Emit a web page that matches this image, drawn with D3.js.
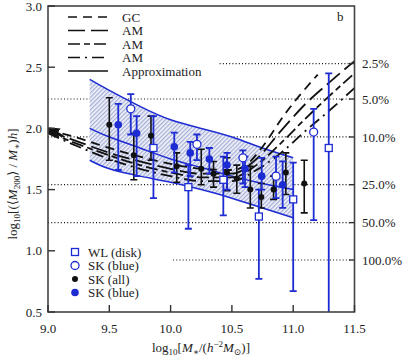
<!DOCTYPE html>
<html>
<head>
<meta charset="utf-8">
<script src="https://cdn.jsdelivr.net/npm/d3@7"></script>
<style>
  body { margin: 0; background: #fff; }
  svg { display: block; font-family: "Liberation Serif", "DejaVu Serif", serif; }
  text { fill: #222; }
</style>
</head>
<body>
<svg id="chart" width="407" height="359"></svg>
<script>
// ---- data ----
const yTicks = [0.5, 1.0, 1.5, 2.0, 2.5, 3.0];
const xTicks = [9.0, 9.5, 10.0, 10.5, 11.0, 11.5];

// right-hand percentage levels and where their dotted guide starts
const pctLabels = ['2.5%', '5.0%', '10.0%', '25.0%', '50.0%', '100.0%'];
const pctLevels = [2.53, 2.24, 1.93, 1.54, 1.23, 0.925];
const pctStart = [10.4, 9.0, 9.0, 9.0, 9.0, 10.02];

// approximation band
const bandX = [9.34, 9.5, 9.75, 10.0, 10.25, 10.5, 10.75, 11.0];
const bandUpper = [2.40, 2.31, 2.18, 2.07, 2.00, 1.93, 1.84, 1.76];
const bandMid = [2.00, 1.93, 1.84, 1.75, 1.68, 1.61, 1.55, 1.50];
const bandLower = [1.74, 1.67, 1.61, 1.56, 1.50, 1.43, 1.35, 1.27];

// model curves
const gcX = [9.0, 9.25, 9.5, 9.75, 10.0, 10.25, 10.5, 10.6, 10.75, 10.92, 11.2];
const gcY = [1.99, 1.92, 1.84, 1.77, 1.71, 1.67, 1.66, 1.69, 1.85, 2.10, 2.44];
const am1X = [9.0, 9.25, 9.5, 9.75, 10.0, 10.25, 10.5, 10.7, 10.9, 11.1, 11.3, 11.5];
const am1Y = [1.98, 1.89, 1.80, 1.73, 1.67, 1.63, 1.63, 1.75, 1.98, 2.20, 2.38, 2.55];
const am2Y = [1.97, 1.87, 1.78, 1.70, 1.64, 1.60, 1.60, 1.70, 1.88, 2.08, 2.27, 2.45];
const am3Y = [1.96, 1.85, 1.75, 1.67, 1.61, 1.57, 1.57, 1.66, 1.80, 1.98, 2.15, 2.33];

// arrow at the left edge
const arrowFrom = [9.12, 1.935];
const arrowTo = [9.0, 1.995];

// WL (disk): open squares
const wlX = [9.86, 10.145, 10.43, 10.72, 11.0, 11.29];
const wlY = [1.84, 1.52, 1.58, 1.28, 1.42, 1.84];
const wlHi = [2.10, 1.70, 1.77, 1.50, 1.72, 2.45];
const wlLo = [1.43, 1.18, 1.29, 0.77, 0.67, 0.40];

// SK (blue): open circles
const skOpenX = [9.675, 10.215, 10.59, 10.86, 11.167];
const skOpenY = [2.16, 1.87, 1.76, 1.61, 1.97];
const skOpenHi = [2.28, 1.95, 1.82, 1.77, 2.16];
const skOpenLo = [1.95, 1.74, 1.55, 1.43, 1.25];

// SK (all): black dots
const skAllX = [9.50, 9.70, 9.84, 10.05, 10.25, 10.35, 10.46, 10.54, 10.65, 10.74, 10.84, 10.94, 11.09];
const skAllY = [2.03, 1.78, 1.94, 1.69, 1.67, 1.63, 1.64, 1.59, 1.50, 1.44, 1.50, 1.64, 1.55];
const skAllHi = [2.25, 1.96, 2.10, 1.80, 1.83, 1.73, 1.76, 1.70, 1.69, 1.55, 1.61, 1.80, 1.74];
const skAllLo = [1.74, 1.58, 1.74, 1.56, 1.54, 1.52, 1.49, 1.47, 1.35, 1.35, 1.42, 1.46, 1.31];

// SK (blue): filled blue dots
const skBlueX = [9.573, 9.723, 10.03, 10.16, 10.316, 10.46, 10.607, 10.743, 10.914];
const skBlueY = [2.03, 1.96, 1.85, 1.80, 1.75, 1.70, 1.67, 1.61, 1.54];
const skBlueHi = [2.20, 2.10, 1.965, 1.89, 1.84, 1.80, 1.77, 1.76, 1.73];
const skBlueLo = [1.66, 1.61, 1.64, 1.61, 1.63, 1.50, 1.52, 1.50, 1.35];

const lineNames = ['GC', 'AM', 'AM', 'AM', 'Approximation'];
const lineDashes = ['9,6', '17,6', '12,4,6,4', '12,5,2,5', null];
const markerNames = ['WL (disk)', 'SK (blue)', 'SK (all)', 'SK (blue)'];

// ---- drawing ----
const blue = '#1d2bd2';
const svg = d3.select('#chart');
const x = d3.scaleLinear().domain([9.0, 11.5]).range([48, 354.5]);
const y = d3.scaleLinear().domain([0.5, 3.0]).range([312, 6]);

const defs = svg.append('defs');
const pat = defs.append('pattern')
  .attr('id', 'hatch').attr('patternUnits', 'userSpaceOnUse')
  .attr('width', 3).attr('height', 3)
  .attr('patternTransform', 'rotate(45)');
pat.append('rect').attr('width', 3).attr('height', 3).attr('fill', '#f4f5fb');
pat.append('line').attr('x1', 0.75).attr('y1', 0).attr('x2', 0.75).attr('y2', 3)
  .attr('stroke', '#7f8cc6').attr('stroke-width', 0.9);
defs.append('clipPath').attr('id', 'plot')
  .append('rect').attr('x', 48).attr('y', 6).attr('width', 306.5).attr('height', 306);
defs.append('marker').attr('id', 'head')
  .attr('viewBox', '0 0 10 10').attr('refX', 7).attr('refY', 5)
  .attr('markerWidth', 4.5).attr('markerHeight', 4.5).attr('orient', 'auto')
  .append('path').attr('d', 'M0,0 L10,5 L0,10 Z').attr('fill', '#111');

const plot = svg.append('g').attr('clip-path', 'url(#plot)');

// dotted percentage guides
pctLevels.forEach((v, i) => {
  plot.append('line')
    .attr('x1', x(pctStart[i])).attr('x2', x(11.47))
    .attr('y1', y(v)).attr('y2', y(v))
    .attr('stroke', '#111').attr('stroke-width', 1.2)
    .attr('stroke-dasharray', '1,2.2');
});

// band
const area = d3.area().x(d => x(d[0])).y0(d => y(d[1])).y1(d => y(d[2]))
  .curve(d3.curveNatural);
plot.append('path')
  .attr('d', area(bandX.map((v, i) => [v, bandLower[i], bandUpper[i]])))
  .attr('fill', 'url(#hatch)');
const smooth = d3.line().x(d => x(d[0])).y(d => y(d[1])).curve(d3.curveNatural);
const line = d3.line().x(d => x(d[0])).y(d => y(d[1])).curve(d3.curveMonotoneX);
[bandUpper, bandMid, bandLower].forEach(arr => {
  plot.append('path')
    .attr('d', smooth(bandX.map((v, i) => [v, arr[i]])))
    .attr('fill', 'none').attr('stroke', blue).attr('stroke-width', 1.5);
});

// model curves
const curves = [[gcX, gcY], [am1X, am1Y], [am1X, am2Y], [am1X, am3Y]];
curves.forEach(([xs, ys], i) => {
  plot.append('path')
    .attr('d', line(xs.map((v, j) => [v, ys[j]])))
    .attr('fill', 'none').attr('stroke', '#111').attr('stroke-width', 1.8)
    .attr('stroke-dasharray', lineDashes[i]);
});

// arrow
svg.append('line')
  .attr('x1', x(arrowFrom[0])).attr('y1', y(arrowFrom[1]))
  .attr('x2', x(arrowTo[0]) + 3).attr('y2', y(arrowTo[1]))
  .attr('stroke', '#111').attr('stroke-width', 2.5)
  .attr('marker-end', 'url(#head)');

// error bars and markers
function errorBars(xs, ys, hi, lo, color, width) {
  xs.forEach((v, i) => {
    const g = plot.append('g').attr('stroke', color).attr('stroke-width', width);
    g.append('line').attr('x1', x(v)).attr('x2', x(v)).attr('y1', y(hi[i])).attr('y2', y(lo[i]));
    [hi[i], lo[i]].forEach(e => {
      g.append('line').attr('x1', x(v) - 3.5).attr('x2', x(v) + 3.5).attr('y1', y(e)).attr('y2', y(e));
    });
  });
}
errorBars(skAllX, skAllY, skAllHi, skAllLo, '#111', 1.6);
errorBars(wlX, wlY, wlHi, wlLo, blue, 1.8);
errorBars(skOpenX, skOpenY, skOpenHi, skOpenLo, blue, 1.8);
errorBars(skBlueX, skBlueY, skBlueHi, skBlueLo, blue, 1.8);

function square(g, cx, cy) {
  g.append('rect').attr('x', cx - 3.5).attr('y', cy - 3.5).attr('width', 7).attr('height', 7)
    .attr('fill', '#fff').attr('stroke', blue).attr('stroke-width', 1.3);
}
function openCircle(g, cx, cy) {
  g.append('circle').attr('cx', cx).attr('cy', cy).attr('r', 4)
    .attr('fill', '#fff').attr('stroke', blue).attr('stroke-width', 1.3);
}
function dot(g, cx, cy, color, r) {
  g.append('circle').attr('cx', cx).attr('cy', cy).attr('r', r).attr('fill', color);
}
skAllX.forEach((v, i) => dot(plot, x(v), y(skAllY[i]), '#111', 3));
wlX.forEach((v, i) => square(plot, x(v), y(wlY[i])));
skOpenX.forEach((v, i) => openCircle(plot, x(v), y(skOpenY[i])));
skBlueX.forEach((v, i) => dot(plot, x(v), y(skBlueY[i]), blue, 3.8));

// frame and axes
svg.append('rect').attr('x', 48).attr('y', 6).attr('width', 306.5).attr('height', 306)
  .attr('fill', 'none').attr('stroke', '#444').attr('stroke-width', 1.6);

yTicks.forEach(t => {
  svg.append('line').attr('x1', 48).attr('x2', 55).attr('y1', y(t)).attr('y2', y(t))
    .attr('stroke', '#333').attr('stroke-width', 1.4);
  svg.append('text').attr('x', 42).attr('y', y(t)).attr('dy', '0.35em')
    .attr('text-anchor', 'end').attr('font-size', 13).text(t.toFixed(1));
});
xTicks.forEach(t => {
  svg.append('line').attr('x1', x(t)).attr('x2', x(t)).attr('y1', 312).attr('y2', 305)
    .attr('stroke', '#333').attr('stroke-width', 1.4);
  svg.append('text').attr('x', x(t)).attr('y', 333)
    .attr('text-anchor', 'middle').attr('font-size', 13).text(t.toFixed(1));
});
pctLevels.forEach((v, i) => {
  svg.append('line').attr('x1', 349).attr('x2', 354.5).attr('y1', y(v)).attr('y2', y(v))
    .attr('stroke', '#333').attr('stroke-width', 1.4);
  svg.append('text').attr('x', 362).attr('y', y(v)).attr('dy', '0.35em')
    .attr('font-size', 13).text(pctLabels[i]);
});

// axis titles
const yl = svg.append('text').attr('font-size', 13)
  .attr('transform', 'translate(17,184) rotate(-90)').attr('text-anchor', 'middle');
yl.append('tspan').text('log');
yl.append('tspan').attr('font-size', 9).attr('dy', 3).text('10');
yl.append('tspan').attr('dy', -3).text('[(⟨');
yl.append('tspan').attr('font-style', 'italic').text('M');
yl.append('tspan').attr('font-size', 9).attr('dy', 3).text('200');
yl.append('tspan').attr('dy', -3).text('⟩ / ');
yl.append('tspan').attr('font-style', 'italic').text('M');
yl.append('tspan').attr('font-size', 9).attr('dy', 3).text('∗');
yl.append('tspan').attr('dy', -3).text(')');
yl.append('tspan').attr('font-style', 'italic').text('h');
yl.append('tspan').text(']');

const xl = svg.append('text').attr('font-size', 13)
  .attr('x', 201).attr('y', 352).attr('text-anchor', 'middle');
xl.append('tspan').text('log');
xl.append('tspan').attr('font-size', 9).attr('dy', 3).text('10');
xl.append('tspan').attr('dy', -3).text('[');
xl.append('tspan').attr('font-style', 'italic').text('M');
xl.append('tspan').attr('font-size', 9).attr('dy', 3).text('∗');
xl.append('tspan').attr('dy', -3).text('/(');
xl.append('tspan').attr('font-style', 'italic').text('h');
xl.append('tspan').attr('font-size', 9).attr('dy', -5).text('−2');
xl.append('tspan').attr('font-style', 'italic').attr('dy', 5).text('M');
xl.append('tspan').attr('font-size', 9).attr('dy', 3).text('⊙');
xl.append('tspan').attr('dy', -3).text(')]');

svg.append('text').attr('x', 337).attr('y', 21).attr('font-size', 13).text('b');

// line legend
lineNames.forEach((name, i) => {
  const ly = 17 + i * 13.5;
  svg.append('line').attr('x1', 68).attr('x2', 108).attr('y1', ly).attr('y2', ly)
    .attr('stroke', '#111').attr('stroke-width', 1.6)
    .attr('stroke-dasharray', lineDashes[i]);
  svg.append('text').attr('x', 122).attr('y', ly).attr('dy', '0.35em')
    .attr('font-size', 13).text(name);
});

// marker legend
const lg = svg.append('g');
markerNames.forEach((name, i) => {
  const ly = 252 + i * 13.5;
  if (i === 0) square(lg, 75, ly);
  if (i === 1) openCircle(lg, 75, ly);
  if (i === 2) dot(lg, 75, ly, '#111', 3);
  if (i === 3) dot(lg, 75, ly, blue, 3.8);
  svg.append('text').attr('x', 88).attr('y', ly).attr('dy', '0.35em')
    .attr('font-size', 13).text(name);
});
</script>
</body>
</html>
